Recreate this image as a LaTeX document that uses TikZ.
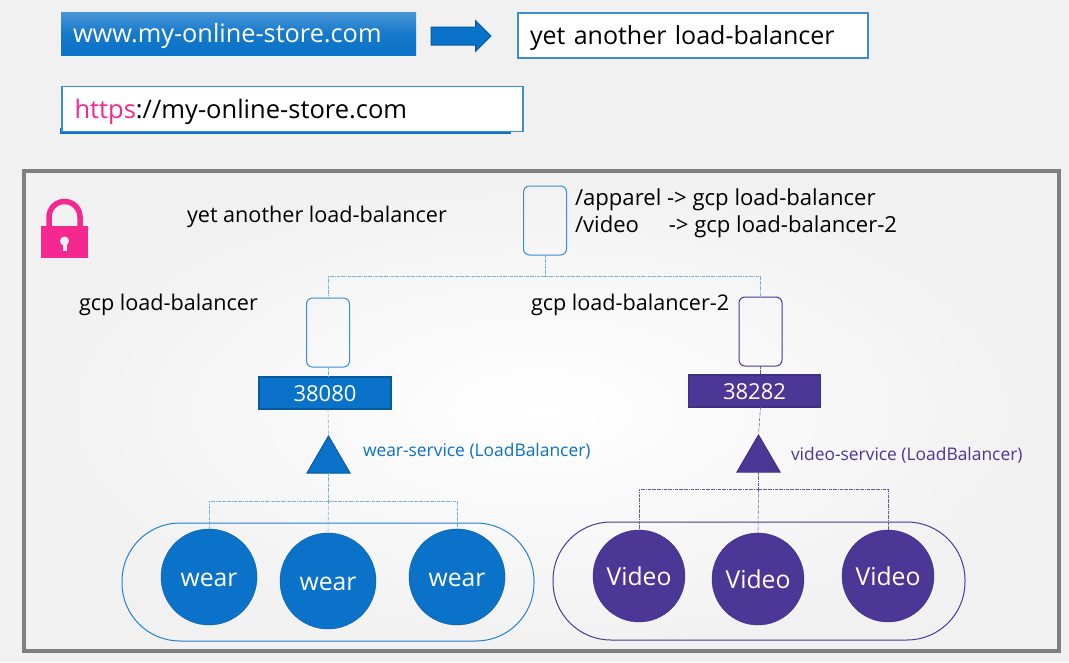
\documentclass[tikz,border=0pt]{standalone}
\usepackage{fontspec}
\setmainfont{Open Sans}
\usetikzlibrary{shapes.geometric,shapes.arrows}
\definecolor{wearblue}{HTML}{0A72C8}
\definecolor{wearedge}{HTML}{075A9E}
\definecolor{videopurple}{HTML}{4B3795}
\definecolor{videoedge}{HTML}{3F2F80}
\definecolor{lockpink}{HTML}{F4288F}
\definecolor{pagegray}{HTML}{F1F1F2}
\definecolor{framegray}{HTML}{808080}
\definecolor{linkblue}{HTML}{6FB2DC}
\tikzset{
  every node/.style={inner sep=0pt,outer sep=0pt},
  bigtext/.style={font=\fontsize{25.3}{29}\selectfont,text height=24pt,text depth=6pt},
  midtext/.style={font=\fontsize{21.6}{25}\selectfont,text=black,anchor=west},
  ruletext/.style={font=\fontsize{22.1}{26}\selectfont,text=black,anchor=west},
  smalltext/.style={font=\fontsize{17.4}{21}\selectfont,anchor=west},
  urlbox/.style={draw=wearblue!80!white,line width=1.6pt,fill=white,rectangle},
  lbbox/.style={draw,rectangle,rounded corners=6pt,line width=1pt,fill=none,minimum width=43,minimum height=69},
  portbox/.style={draw,rectangle,line width=1.2pt,text=white,minimum width=132,minimum height=32,font=\fontsize{22}{26}\selectfont,text height=16pt,text depth=0pt},
  svctri/.style={draw,isosceles triangle,shape border rotate=90,isosceles triangle stretches,line width=1pt,minimum width=43,minimum height=37,anchor=lower side},
  podpill/.style={draw,rectangle,rounded corners=58pt,line width=1pt,fill=none,minimum width=412,minimum height=118},
  wearpod/.style={circle,draw=wearedge,fill=wearblue,text=white,minimum size=96,font=\fontsize{24.7}{29}\selectfont,text height=19pt,text depth=0pt},
  videopod/.style={circle,draw=videoedge,fill=videopurple,text=white,minimum size=92,font=\fontsize{24.7}{29}\selectfont,text height=18pt,text depth=0pt},
  bluelink/.style={densely dashdotted,line width=0.6pt,draw=linkblue},
  purplelink/.style={densely dashdotted,line width=0.6pt,draw=videoedge!80!white}
}
\begin{document}
\begin{tikzpicture}[x=1pt,y=-1pt]
\fill[pagegray] (0,0) rectangle (1069,662);
\useasboundingbox (0,0) rectangle (1069,662);
\node[draw=framegray,line width=4pt,rectangle,inner color=white,outer color=pagegray,minimum width=1035,minimum height=480] (FRAME) at (541.5,411) {};

\node[rectangle,top color=wearblue!75!white,bottom color=wearblue,middle color=wearblue!95!white,minimum width=355,minimum height=43,text=white,bigtext,text width=331,align=left] (WWW) at (238.5,33.5) {www.my-online-store.com};
\node[draw=wearedge,line width=1pt,fill=wearblue,single arrow,inner sep=8.5pt,single arrow head extend=6.5pt,single arrow head indent=0pt,minimum height=60] (ARW) at (456.5,36) {};
\node[urlbox,minimum width=350,minimum height=45,bigtext,font=\fontsize{25}{29}\selectfont,text width=326,align=left] (YAL) at (693,35.5) {yet another load-balancer};
\fill[wearblue] (60,128) rectangle (511,134);
\node[urlbox,minimum width=461,minimum height=45,bigtext,font=\fontsize{25.5}{29}\selectfont,text width=436,align=left] (HTTPS) at (292.5,109) {\textcolor{lockpink}{https}://my-online-store.com};

\fill[lockpink] (41,226) -- (88,226) -- (88,258) -- (41,258) -- cycle;
\draw[lockpink,line width=5.5pt] (49,226) -- (49,217) arc[start angle=180,end angle=360,x radius=15.5,y radius=15.5] -- (80,226);
\fill[pagegray] (64.5,241) circle (4.5);
\fill[pagegray] (62.5,243) rectangle (66.5,251);

\node[midtext] (TOPNAME) at (187,217) {yet another load-balancer};
\node[lbbox,draw=wearblue!80!white] (LBTOP) at (545,220.5) {};
\node[ruletext] (RULEA) at (575,200) {/apparel -> gcp load-balancer};
\node[ruletext] (RULEB) at (575,227) {/video\hspace{24pt} -> gcp load-balancer-2};

\node[midtext] (GCPA) at (79,305) {gcp load-balancer};
\node[midtext] (GCPB) at (531,305) {gcp load-balancer-2};
\node[lbbox,draw=wearblue!80!white] (LBA) at (328,332.5) {};
\node[lbbox,draw=videopurple] (LBB) at (760.5,331.5) {};

\node[portbox,draw=wearedge,fill=wearblue] (PORTA) at (325,393) {38080};
\node[portbox,draw=videoedge,fill=videopurple] (PORTB) at (754.5,391) {38282};

\node[svctri,draw=wearedge,fill=wearblue] (SVCA) at (328.5,473) {};
\node[svctri,draw=videoedge,fill=videopurple] (SVCB) at (758.5,472) {};
\node[smalltext,text=wearblue] (SVCATEXT) at (363,451) {wear-service (LoadBalancer)};
\node[smalltext,text=videopurple] (SVCBTEXT) at (791,455) {video-service (LoadBalancer)};

\node[podpill,draw=wearblue!90!white] (PILLA) at (328,582) {};
\node[podpill,draw=videopurple] (PILLB) at (759,581) {};
\node[wearpod] (WEARA) at (209,577) {wear};
\node[wearpod] (WEARB) at (328,581) {wear};
\node[wearpod] (WEARC) at (457,577) {wear};
\node[videopod] (VIDA) at (639,576) {Video};
\node[videopod] (VIDB) at (758,579) {Video};
\node[videopod] (VIDC) at (888,576) {Video};

\coordinate (BUSTOP) at (545,276);
\coordinate (BUSA) at (328.5,501);
\coordinate (BUSB) at (758.5,489);
\draw[bluelink] (LBTOP.south) -- (BUSTOP);
\draw[bluelink] (BUSTOP) -| (LBA.north);
\draw[bluelink] (BUSTOP) -| (LBB.north);
\draw[bluelink] (LBA.south) -- (LBA.south |- PORTA.north);
\draw[bluelink] (LBA.south |- PORTA.south) -- (SVCA.apex);
\draw[bluelink] (SVCA.lower side) -- (BUSA);
\draw[bluelink] (BUSA) -| (WEARA.north);
\draw[bluelink] (BUSA) -| (WEARC.north);
\draw[bluelink] (BUSA) -- (WEARB.north);
\draw[purplelink] (LBB.south) -- (LBB.south |- PORTB.north);
\draw[purplelink] (LBB.south |- PORTB.south) -- (SVCB.apex);
\draw[purplelink] (SVCB.lower side) -- (BUSB);
\draw[purplelink] (BUSB) -| (VIDA.north);
\draw[purplelink] (BUSB) -| (VIDC.north);
\draw[purplelink] (BUSB) -- (VIDB.north);
\end{tikzpicture}
\end{document}
